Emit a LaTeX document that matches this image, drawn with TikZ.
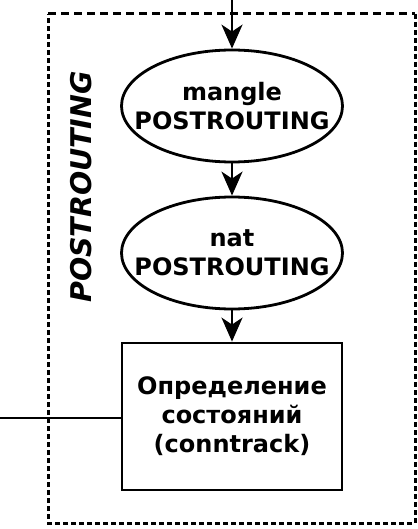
\documentclass[tikz,border=0pt]{standalone}
\usepackage{fontspec}
\setmainfont{DejaVu Sans}
\usetikzlibrary{shapes.geometric,arrows.meta}

\tikzset{
  chain/.style={ellipse, draw, line width=2.8pt, minimum width=221pt, minimum height=112pt, inner xsep=-20pt, inner ysep=0pt, align=center},
  tracker/.style={rectangle, draw, line width=2.8pt, minimum width=220pt, minimum height=147pt, inner sep=0pt, align=center},
  flow/.style={line width=2.6pt, -{Stealth[length=24pt,width=21pt,inset=7pt]}},
  hookfont/.style={font=\fontsize{24}{29}\selectfont\bfseries}
}

\begin{document}
\begin{tikzpicture}[x=1pt,y=-1pt]
\useasboundingbox (0,0) rectangle (417,529);
% dashed frame of the hook
\draw[line width=3pt, dash pattern=on 7.5pt off 5.5pt] (48,14) -- (415,14);
\draw[line width=3pt, dash pattern=on 5pt off 3pt] (415,14) -- (415,523) -- (48,523) -- (48,14);
\node[rotate=90, font=\fontsize{28.5}{30}\selectfont\bfseries\itshape] (hook) at (81.5,187) {POSTROUTING};

\node[chain, hookfont] (mangle) at (232,106) {mangle\\POSTROUTING};
\node[chain, hookfont] (nat) at (232,253) {nat\\POSTROUTING};
\node[tracker, hookfont] (track) at (232,416.5) {Определение\\состояний\\(conntrack)};

\coordinate (in) at (232,0);
\coordinate (west) at (0,418);

\draw[flow] (in) -- (mangle);
\draw[flow] (mangle) -- (nat);
\draw[flow] (nat) -- (track);
\draw[line width=2.6pt] (west) -- (west -| track.west);
\end{tikzpicture}
\end{document}
